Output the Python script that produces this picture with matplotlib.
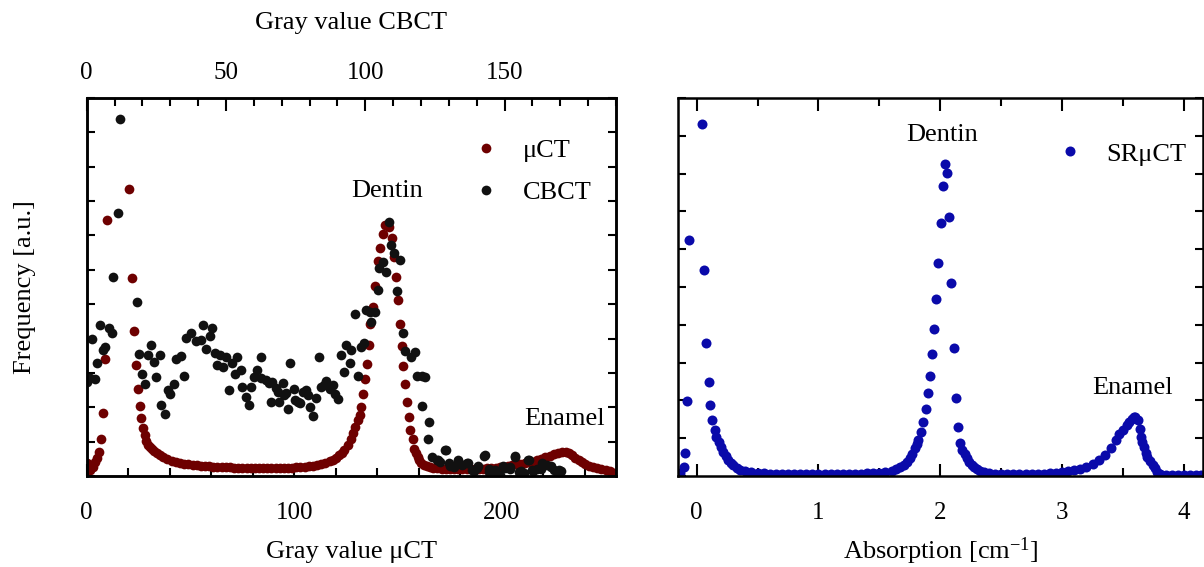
import matplotlib
matplotlib.use("Agg")
import matplotlib.pyplot as plt
from matplotlib.ticker import MultipleLocator, NullFormatter

plt.rcParams["font.family"] = ["Liberation Serif", "DejaVu Serif"]
plt.rcParams["mathtext.fontset"] = "custom"
plt.rcParams["mathtext.rm"] = "Liberation Serif"
plt.rcParams["mathtext.it"] = "Liberation Serif:italic"

# -----------------------------
# DATA (frequency in arbitrary units)
# -----------------------------
mu_gray = [0, 0.3, 1.6, 2.9, 4.0, 4.8, 5.9, 6.7, 7.7, 8.8, 9.6,
           20.5, 21.6, 22.6, 23.6, 24.5, 25.6, 26.4, 27.2, 28.0, 28.8, 29.6, 30.4, 31.3,
           32.5, 33.7, 35.3, 36.9, 38.9, 40.9, 42.9, 44.9, 47, 49, 51, 53, 55, 57, 59,
           61, 63, 65, 67, 69, 71, 73, 75, 77, 79, 81, 83, 85, 87, 89, 91, 93, 95, 97,
           99, 101, 103, 105, 107, 109, 111, 113, 115, 117, 118.6, 120, 121.8, 123,
           124.2, 125.8, 127.5, 128.5, 129.5, 130.7, 131.8, 132.2, 133.0, 134.1, 134.9,
           135.9, 136.7, 138.1, 139.1, 140.2, 141.5, 142.6, 143.9, 145.5, 146.9, 148.2,
           149.0, 149.9, 150.9, 151.8, 152.6, 153.4, 154.4, 155.1, 155.9, 157.0, 157.8,
           158.5, 159.5, 160.3, 161.1, 162.6, 164, 165.5, 167, 169, 171, 173, 175, 177,
           179, 181, 183, 185, 187, 189, 191, 193, 195, 197, 199, 201, 203, 205, 207,
           209, 211, 213, 215, 217, 219, 221, 223, 225, 227, 229, 231, 232.5, 234,
           235.5, 237, 238.5, 240, 242, 244, 246, 248, 250, 252, 254]
mu_freq = [0.37, 0.12, 0.17, 0.27, 0.42, 0.53, 0.71, 1.09, 1.82, 3.40, 7.44,
           8.36, 5.75, 4.22, 3.23, 2.52, 2.03, 1.68, 1.39, 1.19, 1.02, 0.90, 0.84, 0.78,
           0.72, 0.66, 0.60, 0.54, 0.49, 0.45, 0.42, 0.39, 0.36, 0.34, 0.32, 0.31, 0.30,
           0.29, 0.28, 0.27, 0.26, 0.26, 0.25, 0.25, 0.24, 0.24, 0.24, 0.23, 0.23, 0.23,
           0.22, 0.22, 0.22, 0.22, 0.23, 0.23, 0.23, 0.24, 0.24, 0.25, 0.26, 0.27, 0.28,
           0.30, 0.32, 0.35, 0.39, 0.43, 0.47, 0.53, 0.61, 0.68, 0.76, 0.90, 1.07, 1.24,
           1.43, 1.63, 1.77, 2.02, 2.38, 2.81, 3.26, 3.81, 4.42, 4.92, 5.53, 6.26, 6.62,
           7.03, 7.30, 7.25, 6.94, 6.38, 5.78, 5.12, 4.41, 3.79, 3.21, 2.67, 2.16, 1.72,
           1.34, 1.07, 0.80, 0.68, 0.56, 0.46, 0.37, 0.32, 0.28, 0.26, 0.24, 0.22, 0.21,
           0.20, 0.19, 0.19, 0.19, 0.19, 0.19, 0.19, 0.20, 0.20, 0.21, 0.22, 0.23, 0.24,
           0.26, 0.27, 0.29, 0.31, 0.34, 0.36, 0.38, 0.40, 0.42, 0.46, 0.50, 0.54, 0.58,
           0.63, 0.67, 0.70, 0.71, 0.68, 0.61, 0.53, 0.46, 0.40, 0.34, 0.29, 0.26, 0.24,
           0.21, 0.18, 0.14, 0.10]

cbct_gray = [0.24, 1.2, 1.8, 3.0, 3.8, 4.8, 5.8, 6.6, 8.1, 9.0, 9.6, 11.1, 12.0,
             18.0, 18.8, 19.8, 21.0, 21.9, 23.1, 24.0, 25.0, 26.2, 26.8, 28.0, 29.2,
             30.0, 31.3, 32.1, 33.7, 35.1, 35.8, 37.6, 39.1, 40.9, 41.8, 43.0, 44.1,
             45.1, 45.9, 46.9, 47.8, 49.0, 49.9, 51.1, 52.3, 53.1, 54.1, 55.3, 55.9,
             57.1, 58.1, 58.9, 60.1, 61.1, 62.4, 62.5, 64.3, 65.5, 66.1, 66.7, 67.9,
             68.5, 69.1, 70.3, 70.9, 71.5, 72.4, 73.1, 74.3, 74.9, 75.7, 76.7, 77.5,
             78.7, 79.3, 80.3, 81.1, 82.3, 83.3, 84.2, 85.1, 86.0, 87.2, 88.4, 89.0,
             90.2, 91.4, 92.3, 93.2, 94.4, 95.0, 96.2, 97.4, 98.6, 99.5, 100.4, 101.6,
             102.2, 103.4, 104.4, 105.0, 106.4, 107.4, 108.4, 109.4, 110.4, 111.4,
             112.4, 113.4, 114.2, 116.4, 117.8, 118.4, 120.2, 120.4, 121.4, 122.7,
             122.9, 124.0, 125.7, 126.1, 126.9, 128.5, 129.0, 129.9, 130.4, 131.7,
             133.2, 133.3, 134.7, 136.5, 136.8, 138.3, 138.9, 140.1, 140.4, 142.5,
             142.9, 144.3, 144.6, 146.7, 146.8, 148.5, 149.6, 150.3, 151.8, 152.1,
             153.7, 153.9, 155.1, 156.0, 156.9, 158.5, 158.9, 159.9, 160.3, 161.7,
             163.2, 163.5, 165.3, 166.5, 166.7, 167.7, 168.9, 169.5, 170.3]
cbct_freq = [2.74, 2.84, 4.00, 2.81, 3.29, 4.39, 3.66, 3.74, 4.32, 4.15, 5.79, 7.64, 10.4,
             5.07, 3.55, 2.96, 2.69, 3.52, 3.81, 3.32, 2.87, 3.52, 2.06, 1.79, 2.50,
             2.40, 2.67, 3.39, 3.49, 2.90, 4.03, 4.15, 3.93, 3.97, 4.39, 3.71, 4.08,
             4.31, 3.57, 3.23, 3.52, 3.18, 3.47, 2.50, 3.28, 2.97, 3.45, 3.08, 2.60,
             2.31, 2.06, 2.60, 2.89, 3.08, 2.84, 3.47, 2.79, 2.71, 2.16, 2.74, 2.55,
             2.45, 2.16, 2.71, 2.35, 2.42, 1.94, 3.29, 2.52, 2.21, 2.16, 2.11, 2.45,
             2.50, 2.35, 2.02, 1.74, 2.26, 3.45, 2.60, 2.65, 2.77, 2.52, 2.66, 2.40,
             2.23, 3.52, 3.03, 3.81, 3.29, 3.66, 4.70, 2.92, 3.76, 3.88, 4.83, 4.78,
             4.49, 4.78, 5.41, 6.04, 6.23, 5.94, 7.39, 6.72, 6.49, 5.39,
             6.28, 4.17, 3.64, 3.47, 3.61, 2.92, 2.91, 2.03, 2.89, 1.09,
             1.58, 0.55, 0.48, 0.48, 0.42, 0.76, 0.77, 0.37, 0.29, 0.27,
             0.43, 0.48, 0.33, 0.37, 0.38, 0.17, 0.14, 0.22, 0.29, 0.58,
             0.60, 0.13, 0.19, 0.17, 0.10, 0.03, 0.29, 0.22, 0.19, 0.27,
             0.56, 0.58, 0.13, 0.14, 0.08, 0.48, 0.48, 0.16, 0.14, 0.19,
             0.19, 0.37, 0.33, 0.27, 0.29, 0.17, 0.13, 0.16, 0.14]

sr_abs = [-0.138, -0.107, -0.098, -0.083, -0.061, 0.046, 0.061, 0.076, 0.098, 0.113,
          0.128, 0.150, 0.162, 0.18, 0.20, 0.22, 0.24, 0.26, 0.28, 0.30, 0.33, 0.36,
          0.40, 0.45, 0.50, 0.55, 0.60, 0.65, 0.70, 0.75, 0.80, 0.85, 0.90, 0.95, 1.00,
          1.05, 1.10, 1.15, 1.20, 1.25, 1.30, 1.35, 1.40, 1.45, 1.50, 1.55, 1.60, 1.64,
          1.67, 1.70, 1.73, 1.75, 1.77, 1.79, 1.805, 1.82, 1.844, 1.862, 1.881, 1.899,
          1.914, 1.933, 1.951, 1.969, 1.985, 2.003, 2.021, 2.037, 2.058, 2.073, 2.089,
          2.113, 2.128, 2.144, 2.162, 2.18, 2.20, 2.22, 2.24, 2.26, 2.28, 2.30, 2.33,
          2.36, 2.40, 2.45, 2.50, 2.55, 2.60, 2.65, 2.70, 2.75, 2.80, 2.85, 2.90, 2.95,
          3.00, 3.05, 3.10, 3.15, 3.20, 3.25, 3.30, 3.35, 3.40, 3.44, 3.47, 3.50, 3.53,
          3.55, 3.57, 3.587, 3.60, 3.62, 3.64, 3.65, 3.66, 3.67, 3.69, 3.70, 3.72,
          3.746, 3.76, 3.78, 3.80, 3.81, 3.85, 3.90, 3.95, 4.00, 4.05, 4.10, 4.14]
sr_freq = [0.07, 0.23, 0.62, 1.98, 6.23, 9.30, 5.46, 3.52, 2.48, 1.88,
           1.48, 1.22, 1.04, 0.90, 0.76, 0.63, 0.52, 0.43, 0.35, 0.29, 0.22, 0.17,
           0.13, 0.10, 0.08, 0.07, 0.06, 0.05, 0.05, 0.04, 0.04, 0.04, 0.04, 0.04, 0.04,
           0.04, 0.04, 0.04, 0.05, 0.05, 0.05, 0.06, 0.07, 0.08, 0.09, 0.11, 0.14, 0.18,
           0.23, 0.29, 0.38, 0.47, 0.58, 0.73, 0.84, 0.95, 1.17, 1.44, 1.77, 2.19,
           2.65, 3.22, 3.89, 4.69, 5.63, 6.69, 7.67, 8.25, 8.01, 6.85, 5.10,
           3.39, 2.07, 1.29, 0.86, 0.70, 0.58, 0.47, 0.38, 0.30, 0.23, 0.18, 0.13,
           0.10, 0.08, 0.06, 0.05, 0.05, 0.04, 0.04, 0.04, 0.05, 0.05, 0.06, 0.07, 0.08,
           0.10, 0.12, 0.15, 0.19, 0.25, 0.32, 0.42, 0.55, 0.74, 0.95, 1.10, 1.22, 1.35,
           1.44, 1.51, 1.55, 1.55, 1.48, 1.25, 1.02, 0.90, 0.78, 0.62, 0.51, 0.40,
           0.29, 0.20, 0.11, 0.05, 0.03, 0.03, 0.03, 0.03, 0.03, 0.03, 0.03, 0.03]

mu_color = "#6e0000"
cbct_color = "#111111"
sr_color = "#0a0aaa"

FS_TICK = 18
FS_TEXT = 19
LW = 1.8

# -----------------------------
# FIGURE
# -----------------------------
fig = plt.figure(figsize=(12.04, 5.67), dpi=100)
ax1 = fig.add_axes([0.0720, 0.1605, 0.4396, 0.6667])
ax2 = fig.add_axes([0.5631, 0.1605, 0.4360, 0.6667])
ax1t = ax1.twiny()

# left panel: uCT on bottom axis, CBCT on top axis
h_mu, = ax1.plot(mu_gray, mu_freq, "o", color=mu_color, ms=7.0, mec="none", label="μCT")
h_cb, = ax1t.plot(cbct_gray, cbct_freq, "o", color=cbct_color, ms=7.0, mec="none", label="CBCT")

ax1.set_xlim(0, 255)
ax1.set_ylim(0, 11)
ax1t.set_xlim(0, 190)

ax1.xaxis.set_major_locator(MultipleLocator(100))
ax1.xaxis.set_minor_locator(MultipleLocator(20))
ax1.yaxis.set_major_locator(MultipleLocator(1))
ax1.yaxis.set_major_formatter(NullFormatter())
ax1t.xaxis.set_major_locator(MultipleLocator(50))
ax1t.xaxis.set_minor_locator(MultipleLocator(10))

ax1.tick_params(axis="x", which="both", direction="in", top=False, bottom=True,
                labelsize=FS_TICK, pad=19, width=1.5)
ax1.tick_params(axis="x", which="major", length=9)
ax1.tick_params(axis="x", which="minor", length=6)
ax1.tick_params(axis="y", which="both", direction="in", left=True, right=True,
                length=6, width=1.5)
ax1t.tick_params(axis="x", which="both", direction="in", top=True, bottom=False,
                 labelsize=FS_TICK, pad=10, width=1.5)
ax1t.tick_params(axis="x", which="major", length=9)
ax1t.tick_params(axis="x", which="minor", length=6)

ax1.set_xlabel("Gray value μCT", fontsize=FS_TEXT, labelpad=12)
ax1.set_ylabel("Frequency [a.u.]", fontsize=FS_TEXT, labelpad=33)
ax1t.set_xlabel("Gray value CBCT", fontsize=FS_TEXT, labelpad=24)

ax1.text(0.568, 0.739, "Dentin", transform=ax1.transAxes, ha="center",
         va="baseline", fontsize=FS_TEXT)
ax1.text(0.902, 0.135, "Enamel", transform=ax1.transAxes, ha="center",
         va="baseline", fontsize=FS_TEXT)

ax1t.legend(handles=[h_mu, h_cb], loc="upper left", bbox_to_anchor=(0.735, 0.892),
            frameon=False, fontsize=FS_TEXT, borderpad=0, borderaxespad=0,
            handlelength=0.8, handletextpad=1.0, labelspacing=0.7)

# right panel: SR uCT
h_sr, = ax2.plot(sr_abs, sr_freq, "o", color=sr_color, ms=7.2, mec="none", label="SRμCT")
ax2.set_xlim(-0.153, 4.156)
ax2.set_ylim(0, 10)
ax2.xaxis.set_major_locator(MultipleLocator(1))
ax2.xaxis.set_minor_locator(MultipleLocator(0.5))
ax2.yaxis.set_major_locator(MultipleLocator(1))
ax2.yaxis.set_major_formatter(NullFormatter())
ax2.tick_params(axis="x", which="both", direction="in", top=True, bottom=True,
                labelsize=FS_TICK, pad=19, width=1.5)
ax2.tick_params(axis="x", which="major", length=9)
ax2.tick_params(axis="x", which="minor", length=6)
ax2.tick_params(axis="y", which="both", direction="in", left=True, right=True,
                length=6, width=1.5)
ax2.set_xlabel(r"Absorption [cm$^{-1}$]", fontsize=FS_TEXT, labelpad=8)

ax2.text(0.503, 0.886, "Dentin", transform=ax2.transAxes, ha="center",
         va="baseline", fontsize=FS_TEXT)
ax2.text(0.865, 0.216, "Enamel", transform=ax2.transAxes, ha="center",
         va="baseline", fontsize=FS_TEXT)
ax2.legend(handles=[h_sr], loc="upper left", bbox_to_anchor=(0.726, 0.883),
           frameon=False, fontsize=FS_TEXT, borderpad=0, borderaxespad=0,
           handlelength=0.8, handletextpad=1.0)

for ax in (ax1, ax1t, ax2):
    for sp in ax.spines.values():
        sp.set_linewidth(LW)

fig.savefig("out.png", dpi=100)
